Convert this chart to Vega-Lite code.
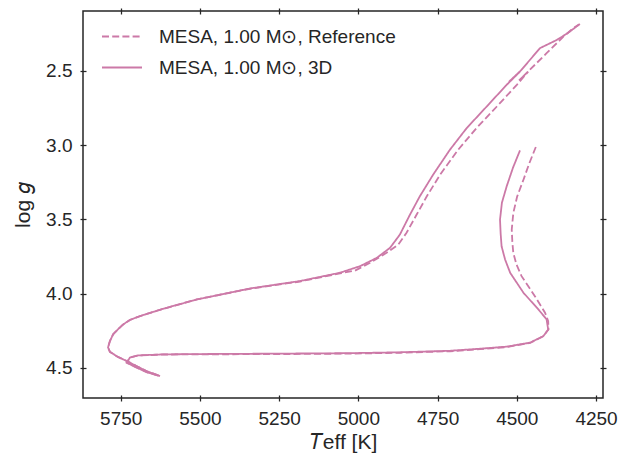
{
 "$schema": "https://vega.github.io/schema/vega-lite/v6.json",
 "width": 520, "height": 387,
 "autosize": {"type": "none"},
 "padding": {"left": 83, "top": 11, "right": 28, "bottom": 59},
 "background": "white",
 "config": {
  "view": {"stroke": "#262626", "strokeWidth": 1.5},
  "font": "Liberation Sans",
  "axis": {"grid": false, "domain": false, "offset": -3, "tickSize": 6, "tickWidth": 1.25, "tickColor": "#262626",
           "labelFont": "Liberation Sans", "labelFontSize": 19, "labelColor": "#262626", "labelPadding": 8,
           "titleFont": "Liberation Sans", "titleFontSize": 21, "titleFontWeight": "normal", "titleColor": "#262626"}
 },
 "data": {"values": [
  {"s":"MESA, 1.00 M⊙, Reference","i":1,"T":4440,"g":3.013},
  {"s":"MESA, 1.00 M⊙, Reference","i":2,"T":4461,"g":3.125},
  {"s":"MESA, 1.00 M⊙, Reference","i":3,"T":4479,"g":3.233},
  {"s":"MESA, 1.00 M⊙, Reference","i":4,"T":4499,"g":3.347},
  {"s":"MESA, 1.00 M⊙, Reference","i":5,"T":4511,"g":3.457},
  {"s":"MESA, 1.00 M⊙, Reference","i":6,"T":4516,"g":3.569},
  {"s":"MESA, 1.00 M⊙, Reference","i":7,"T":4514,"g":3.657},
  {"s":"MESA, 1.00 M⊙, Reference","i":8,"T":4511,"g":3.726},
  {"s":"MESA, 1.00 M⊙, Reference","i":9,"T":4501,"g":3.805},
  {"s":"MESA, 1.00 M⊙, Reference","i":10,"T":4485,"g":3.883},
  {"s":"MESA, 1.00 M⊙, Reference","i":11,"T":4443,"g":4.018},
  {"s":"MESA, 1.00 M⊙, Reference","i":12,"T":4411,"g":4.129},
  {"s":"MESA, 1.00 M⊙, Reference","i":13,"T":4401,"g":4.186},
  {"s":"MESA, 1.00 M⊙, Reference","i":14,"T":4400,"g":4.242},
  {"s":"MESA, 1.00 M⊙, Reference","i":15,"T":4416,"g":4.287},
  {"s":"MESA, 1.00 M⊙, Reference","i":16,"T":4458,"g":4.333},
  {"s":"MESA, 1.00 M⊙, Reference","i":17,"T":4532,"g":4.361},
  {"s":"MESA, 1.00 M⊙, Reference","i":18,"T":4616,"g":4.375},
  {"s":"MESA, 1.00 M⊙, Reference","i":19,"T":4711,"g":4.389},
  {"s":"MESA, 1.00 M⊙, Reference","i":20,"T":4869,"g":4.399},
  {"s":"MESA, 1.00 M⊙, Reference","i":21,"T":5027,"g":4.405},
  {"s":"MESA, 1.00 M⊙, Reference","i":22,"T":5247,"g":4.408},
  {"s":"MESA, 1.00 M⊙, Reference","i":23,"T":5500,"g":4.410},
  {"s":"MESA, 1.00 M⊙, Reference","i":24,"T":5616,"g":4.411},
  {"s":"MESA, 1.00 M⊙, Reference","i":25,"T":5695,"g":4.418},
  {"s":"MESA, 1.00 M⊙, Reference","i":26,"T":5721,"g":4.432},
  {"s":"MESA, 1.00 M⊙, Reference","i":27,"T":5731,"g":4.466},
  {"s":"MESA, 1.00 M⊙, Reference","i":28,"T":5702,"g":4.497},
  {"s":"MESA, 1.00 M⊙, Reference","i":29,"T":5668,"g":4.530},
  {"s":"MESA, 1.00 M⊙, Reference","i":30,"T":5626,"g":4.556},
  {"s":"MESA, 1.00 M⊙, Reference","i":31,"T":5667,"g":4.524},
  {"s":"MESA, 1.00 M⊙, Reference","i":32,"T":5702,"g":4.487},
  {"s":"MESA, 1.00 M⊙, Reference","i":33,"T":5726,"g":4.460},
  {"s":"MESA, 1.00 M⊙, Reference","i":34,"T":5759,"g":4.427},
  {"s":"MESA, 1.00 M⊙, Reference","i":35,"T":5784,"g":4.393},
  {"s":"MESA, 1.00 M⊙, Reference","i":36,"T":5790,"g":4.363},
  {"s":"MESA, 1.00 M⊙, Reference","i":37,"T":5784,"g":4.320},
  {"s":"MESA, 1.00 M⊙, Reference","i":38,"T":5774,"g":4.275},
  {"s":"MESA, 1.00 M⊙, Reference","i":39,"T":5759,"g":4.242},
  {"s":"MESA, 1.00 M⊙, Reference","i":40,"T":5742,"g":4.208},
  {"s":"MESA, 1.00 M⊙, Reference","i":41,"T":5721,"g":4.178},
  {"s":"MESA, 1.00 M⊙, Reference","i":42,"T":5689,"g":4.152},
  {"s":"MESA, 1.00 M⊙, Reference","i":43,"T":5616,"g":4.103},
  {"s":"MESA, 1.00 M⊙, Reference","i":44,"T":5510,"g":4.040},
  {"s":"MESA, 1.00 M⊙, Reference","i":45,"T":5342,"g":3.968},
  {"s":"MESA, 1.00 M⊙, Reference","i":46,"T":5184,"g":3.919},
  {"s":"MESA, 1.00 M⊙, Reference","i":47,"T":5058,"g":3.864},
  {"s":"MESA, 1.00 M⊙, Reference","i":48,"T":5011,"g":3.846},
  {"s":"MESA, 1.00 M⊙, Reference","i":49,"T":4963,"g":3.793},
  {"s":"MESA, 1.00 M⊙, Reference","i":50,"T":4911,"g":3.726},
  {"s":"MESA, 1.00 M⊙, Reference","i":51,"T":4874,"g":3.670},
  {"s":"MESA, 1.00 M⊙, Reference","i":52,"T":4848,"g":3.591},
  {"s":"MESA, 1.00 M⊙, Reference","i":53,"T":4816,"g":3.468},
  {"s":"MESA, 1.00 M⊙, Reference","i":54,"T":4784,"g":3.345},
  {"s":"MESA, 1.00 M⊙, Reference","i":55,"T":4742,"g":3.199},
  {"s":"MESA, 1.00 M⊙, Reference","i":56,"T":4685,"g":3.031},
  {"s":"MESA, 1.00 M⊙, Reference","i":57,"T":4627,"g":2.885},
  {"s":"MESA, 1.00 M⊙, Reference","i":58,"T":4563,"g":2.740},
  {"s":"MESA, 1.00 M⊙, Reference","i":59,"T":4500,"g":2.594},
  {"s":"MESA, 1.00 M⊙, Reference","i":60,"T":4464,"g":2.505},
  {"s":"MESA, 1.00 M⊙, Reference","i":61,"T":4493,"g":2.564},
  {"s":"MESA, 1.00 M⊙, Reference","i":62,"T":4461,"g":2.497},
  {"s":"MESA, 1.00 M⊙, Reference","i":63,"T":4406,"g":2.381},
  {"s":"MESA, 1.00 M⊙, Reference","i":64,"T":4353,"g":2.269},
  {"s":"MESA, 1.00 M⊙, Reference","i":65,"T":4322,"g":2.213},
  {"s":"MESA, 1.00 M⊙, Reference","i":66,"T":4304,"g":2.187},
  {"s":"MESA, 1.00 M⊙, 3D","i":1,"T":4490,"g":3.036},
  {"s":"MESA, 1.00 M⊙, 3D","i":2,"T":4512,"g":3.152},
  {"s":"MESA, 1.00 M⊙, 3D","i":3,"T":4532,"g":3.278},
  {"s":"MESA, 1.00 M⊙, 3D","i":4,"T":4547,"g":3.388},
  {"s":"MESA, 1.00 M⊙, 3D","i":5,"T":4553,"g":3.502},
  {"s":"MESA, 1.00 M⊙, 3D","i":6,"T":4551,"g":3.596},
  {"s":"MESA, 1.00 M⊙, 3D","i":7,"T":4548,"g":3.682},
  {"s":"MESA, 1.00 M⊙, 3D","i":8,"T":4537,"g":3.771},
  {"s":"MESA, 1.00 M⊙, 3D","i":9,"T":4521,"g":3.860},
  {"s":"MESA, 1.00 M⊙, 3D","i":10,"T":4479,"g":3.995},
  {"s":"MESA, 1.00 M⊙, 3D","i":11,"T":4432,"g":4.107},
  {"s":"MESA, 1.00 M⊙, 3D","i":12,"T":4406,"g":4.174},
  {"s":"MESA, 1.00 M⊙, 3D","i":13,"T":4401,"g":4.242},
  {"s":"MESA, 1.00 M⊙, 3D","i":14,"T":4416,"g":4.287},
  {"s":"MESA, 1.00 M⊙, 3D","i":15,"T":4458,"g":4.331},
  {"s":"MESA, 1.00 M⊙, 3D","i":16,"T":4532,"g":4.358},
  {"s":"MESA, 1.00 M⊙, 3D","i":17,"T":4616,"g":4.372},
  {"s":"MESA, 1.00 M⊙, 3D","i":18,"T":4711,"g":4.386},
  {"s":"MESA, 1.00 M⊙, 3D","i":19,"T":4869,"g":4.396},
  {"s":"MESA, 1.00 M⊙, 3D","i":20,"T":5027,"g":4.402},
  {"s":"MESA, 1.00 M⊙, 3D","i":21,"T":5247,"g":4.405},
  {"s":"MESA, 1.00 M⊙, 3D","i":22,"T":5500,"g":4.408},
  {"s":"MESA, 1.00 M⊙, 3D","i":23,"T":5616,"g":4.410},
  {"s":"MESA, 1.00 M⊙, 3D","i":24,"T":5695,"g":4.417},
  {"s":"MESA, 1.00 M⊙, 3D","i":25,"T":5721,"g":4.432},
  {"s":"MESA, 1.00 M⊙, 3D","i":26,"T":5731,"g":4.466},
  {"s":"MESA, 1.00 M⊙, 3D","i":27,"T":5702,"g":4.497},
  {"s":"MESA, 1.00 M⊙, 3D","i":28,"T":5668,"g":4.530},
  {"s":"MESA, 1.00 M⊙, 3D","i":29,"T":5626,"g":4.556},
  {"s":"MESA, 1.00 M⊙, 3D","i":30,"T":5667,"g":4.524},
  {"s":"MESA, 1.00 M⊙, 3D","i":31,"T":5702,"g":4.487},
  {"s":"MESA, 1.00 M⊙, 3D","i":32,"T":5726,"g":4.460},
  {"s":"MESA, 1.00 M⊙, 3D","i":33,"T":5759,"g":4.427},
  {"s":"MESA, 1.00 M⊙, 3D","i":34,"T":5784,"g":4.393},
  {"s":"MESA, 1.00 M⊙, 3D","i":35,"T":5790,"g":4.363},
  {"s":"MESA, 1.00 M⊙, 3D","i":36,"T":5784,"g":4.320},
  {"s":"MESA, 1.00 M⊙, 3D","i":37,"T":5774,"g":4.275},
  {"s":"MESA, 1.00 M⊙, 3D","i":38,"T":5759,"g":4.242},
  {"s":"MESA, 1.00 M⊙, 3D","i":39,"T":5742,"g":4.208},
  {"s":"MESA, 1.00 M⊙, 3D","i":40,"T":5721,"g":4.178},
  {"s":"MESA, 1.00 M⊙, 3D","i":41,"T":5689,"g":4.152},
  {"s":"MESA, 1.00 M⊙, 3D","i":42,"T":5616,"g":4.103},
  {"s":"MESA, 1.00 M⊙, 3D","i":43,"T":5510,"g":4.040},
  {"s":"MESA, 1.00 M⊙, 3D","i":44,"T":5342,"g":3.966},
  {"s":"MESA, 1.00 M⊙, 3D","i":45,"T":5184,"g":3.916},
  {"s":"MESA, 1.00 M⊙, 3D","i":46,"T":5058,"g":3.860},
  {"s":"MESA, 1.00 M⊙, 3D","i":47,"T":4995,"g":3.816},
  {"s":"MESA, 1.00 M⊙, 3D","i":48,"T":4942,"g":3.760},
  {"s":"MESA, 1.00 M⊙, 3D","i":49,"T":4900,"g":3.692},
  {"s":"MESA, 1.00 M⊙, 3D","i":50,"T":4869,"g":3.603},
  {"s":"MESA, 1.00 M⊙, 3D","i":51,"T":4837,"g":3.468},
  {"s":"MESA, 1.00 M⊙, 3D","i":52,"T":4806,"g":3.345},
  {"s":"MESA, 1.00 M⊙, 3D","i":53,"T":4764,"g":3.199},
  {"s":"MESA, 1.00 M⊙, 3D","i":54,"T":4711,"g":3.031},
  {"s":"MESA, 1.00 M⊙, 3D","i":55,"T":4658,"g":2.885},
  {"s":"MESA, 1.00 M⊙, 3D","i":56,"T":4595,"g":2.740},
  {"s":"MESA, 1.00 M⊙, 3D","i":57,"T":4532,"g":2.594},
  {"s":"MESA, 1.00 M⊙, 3D","i":58,"T":4490,"g":2.505},
  {"s":"MESA, 1.00 M⊙, 3D","i":59,"T":4525,"g":2.574},
  {"s":"MESA, 1.00 M⊙, 3D","i":60,"T":4487,"g":2.497},
  {"s":"MESA, 1.00 M⊙, 3D","i":61,"T":4427,"g":2.347},
  {"s":"MESA, 1.00 M⊙, 3D","i":62,"T":4374,"g":2.292},
  {"s":"MESA, 1.00 M⊙, 3D","i":63,"T":4337,"g":2.242},
  {"s":"MESA, 1.00 M⊙, 3D","i":64,"T":4301,"g":2.184}
 ]},
 "layer": [
  {
   "mark": {"type": "line", "color": "#cc79a7", "strokeWidth": 1.8, "clip": true},
   "encoding": {
    "x": {"field": "T", "type": "quantitative",
          "scale": {"domain": [4228, 5869], "reverse": true, "nice": false, "zero": false},
          "axis": {"orient": "bottom", "values": [4250, 4500, 4750, 5000, 5250, 5500, 5750], "format": "d", "title": "𝑇eff [K]", "titlePadding": 3}},
    "y": {"field": "g", "type": "quantitative",
          "scale": {"domain": [2.0965, 4.704], "reverse": true, "nice": false, "zero": false},
          "axis": {"orient": "left", "values": [2.5, 3.0, 3.5, 4.0, 4.5], "format": ".1f", "title": "log 𝑔", "titlePadding": 12}},
    "order": {"field": "i", "type": "quantitative"},
    "strokeDash": {"field": "s", "type": "nominal",
                   "scale": {"domain": ["MESA, 1.00 M⊙, Reference", "MESA, 1.00 M⊙, 3D"], "range": [[7, 3.2], [1, 0]]},
                   "legend": {"title": null, "orient": "none", "legendX": 18, "legendY": 4.5,
                              "symbolType": "stroke", "symbolSize": 1600, "symbolStrokeWidth": 1.8, "symbolStrokeColor": "#cc79a7",
                              "labelFont": "Liberation Sans", "labelFontSize": 19, "labelColor": "#262626", "labelOffset": 16,
                              "labelLimit": 400, "rowPadding": 0}}
   }
  },
  {
   "mark": {"type": "line", "opacity": 0},
   "encoding": {
    "x": {"field": "T", "type": "quantitative", "axis": {"orient": "top", "values": [4250, 4500, 4750, 5000, 5250, 5500, 5750], "labels": false, "title": null}},
    "y": {"field": "g", "type": "quantitative", "axis": {"orient": "right", "values": [2.5, 3.0, 3.5, 4.0, 4.5], "labels": false, "title": null}},
    "detail": {"field": "s"},
    "order": {"field": "i", "type": "quantitative"}
   }
  }
 ],
 "resolve": {"axis": {"x": "independent", "y": "independent"}}
}
